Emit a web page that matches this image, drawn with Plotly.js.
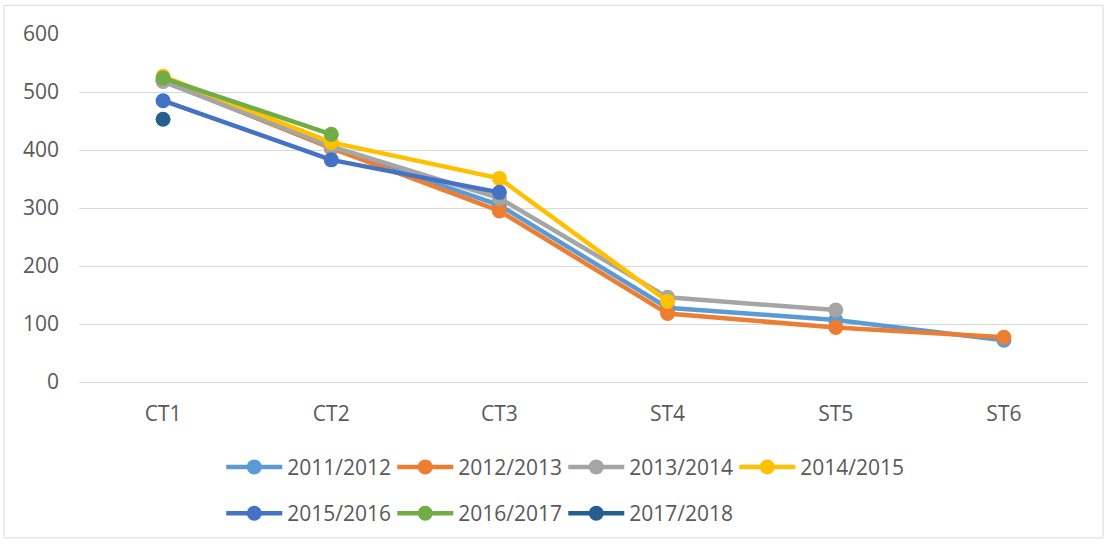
<!DOCTYPE html>
<html>
<head>
<meta charset="utf-8">
<script src="https://cdn.plot.ly/plotly-3.0.1.min.js"></script>
<style>
html,body{margin:0;padding:0;background:#fff;}
#chart{width:1107px;height:546px;}
</style>
</head>
<body>
<div id="chart"></div>
<script>
const categories = ["CT1", "CT2", "CT3", "ST4", "ST5", "ST6"];
const seriesNames = ["2011/2012", "2012/2013", "2013/2014", "2014/2015", "2015/2016", "2016/2017", "2017/2018"];
const s2011_2012 = [519, 404, 305, 128, 107, 72];
const s2012_2013 = [520, 403, 295, 118, 94, 77];
const s2013_2014 = [518, 406, 317, 146, 124];
const s2014_2015 = [527, 413, 351, 139];
const s2015_2016 = [485, 383, 327];
const s2016_2017 = [524, 427];
const s2017_2018 = [453];
const seriesValues = [s2011_2012, s2012_2013, s2013_2014, s2014_2015, s2015_2016, s2016_2017, s2017_2018];
const colors = ["#5B9BD5", "#ED7D31", "#A5A5A5", "#FFC000", "#4472C4", "#70AD47", "#255E91"];
const yTicks = [0, 100, 200, 300, 400, 500, 600];

const traces = seriesValues.map((vals, i) => ({
  type: "scatter",
  mode: "lines+markers",
  name: seriesNames[i],
  x: categories.slice(0, vals.length),
  y: vals,
  line: {color: colors[i], width: 4.5},
  marker: {color: colors[i], size: 15},
  legend: i < 4 ? "legend" : "legend2"
}));

const font = {family: "Open Sans, Liberation Sans, sans-serif", size: 21, color: "#595959"};
const legendCommon = {
  orientation: "h",
  xanchor: "left",
  yanchor: "middle",
  x: 0.141,
  font: font,
  itemwidth: 56,
  entrywidth: 100,
  entrywidthmode: "pixels",
  bgcolor: "rgba(0,0,0,0)",
  traceorder: "normal"
};

const layout = {
  width: 1107,
  height: 546,
  margin: {l: 79, r: 19, t: 34, b: 160},
  paper_bgcolor: "#fff",
  plot_bgcolor: "#fff",
  font: font,
  showlegend: true,
  xaxis: {
    type: "category",
    categoryorder: "array",
    categoryarray: categories,
    range: [-0.5, 5.5],
    showgrid: false,
    zeroline: false,
    showline: false,
    ticks: "",
    ticklabelstandoff: 17,
    tickfont: font
  },
  yaxis: {
    range: [0, 600],
    tickvals: yTicks,
    ticktext: yTicks.map(String),
    showgrid: true,
    gridcolor: "#d9d9d9",
    gridwidth: 1,
    zeroline: true,
    zerolinecolor: "#d9d9d9",
    zerolinewidth: 1,
    showline: false,
    ticks: "",
    ticklabelstandoff: 19,
    tickfont: font
  },
  legend: Object.assign({}, legendCommon, {y: -0.245}),
  legend2: Object.assign({}, legendCommon, {y: -0.378}),
  shapes: [{
    type: "rect", xref: "paper", yref: "paper",
    x0: -0.0743, x1: 1.0149, y0: -0.448, y1: 1.0824,
    line: {color: "#d9d9d9", width: 1},
    fillcolor: "rgba(0,0,0,0)",
    layer: "below"
  }]
};

Plotly.newPlot("chart", traces, layout, {displayModeBar: false, staticPlot: true});
</script>
</body>
</html>
